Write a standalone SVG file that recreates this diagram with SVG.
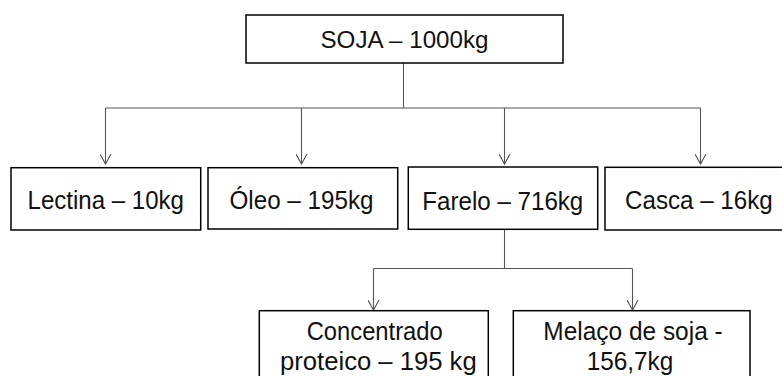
<svg xmlns="http://www.w3.org/2000/svg" width="782" height="376" viewBox="0 0 782 376">
<defs>
<style>
.box{fill:#fff;stroke:#000;stroke-width:1.5}
.t{font-family:"Liberation Sans",Arial,sans-serif;font-size:25px;fill:#111;text-anchor:start}
.c{fill:none;stroke:#555;stroke-width:1.1}
</style>
<marker id="ah" markerWidth="12" markerHeight="12" refX="10" refY="6" orient="auto" markerUnits="userSpaceOnUse">
<path d="M0,0.5 L10,6 L0,11.5" fill="none" stroke="#555" stroke-width="1.1"/>
</marker>
</defs>
<rect width="782" height="376" fill="#fff"/>
<g id="connectors">
<path class="c" d="M403.5,63 V108"/>
<path class="c" d="M105.5,108 H700.5"/>
<path class="c" d="M105.5,108 V164" marker-end="url(#ah)"/>
<path class="c" d="M301.5,108 V164" marker-end="url(#ah)"/>
<path class="c" d="M504.5,108 V164" marker-end="url(#ah)"/>
<path class="c" d="M700.5,108 V164" marker-end="url(#ah)"/>
<path class="c" d="M504.5,230 V268.5"/>
<path class="c" d="M373.5,268.5 H632.5"/>
<path class="c" d="M373.5,268.5 V310" marker-end="url(#ah)"/>
<path class="c" d="M632.5,268.5 V310" marker-end="url(#ah)"/>
</g>
<g id="soja">
<rect class="box" x="246" y="15" width="317" height="48"/>
<text class="t" x="320.5" y="48" textLength="168" lengthAdjust="spacingAndGlyphs" style="font-size:23.5px">SOJA – 1000kg</text>
</g>
<g id="lectina">
<rect class="box" x="11" y="167.7" width="189.7" height="62.3"/>
<text class="t" x="27.5" y="209.3" textLength="156.5" lengthAdjust="spacingAndGlyphs">Lectina – 10kg</text>
</g>
<g id="oleo">
<rect class="box" x="208" y="167.7" width="189.7" height="61.3"/>
<text class="t" x="229.5" y="209.3" textLength="144" lengthAdjust="spacingAndGlyphs">Óleo – 195kg</text>
</g>
<g id="farelo">
<rect class="box" x="408.3" y="167" width="189.4" height="62.3"/>
<text class="t" x="422.3" y="209.5" textLength="161" lengthAdjust="spacingAndGlyphs">Farelo – 716kg</text>
</g>
<g id="casca">
<rect class="box" x="605" y="167.3" width="190" height="62.7"/>
<text class="t" x="625" y="208.8" textLength="147.7" lengthAdjust="spacingAndGlyphs">Casca – 16kg</text>
</g>
<g id="concentrado">
<rect class="box" x="259.3" y="310.7" width="229" height="90"/>
<text class="t" x="306.7" y="340" textLength="136" lengthAdjust="spacingAndGlyphs">Concentrado</text>
<text class="t" x="280" y="370" textLength="196.7" lengthAdjust="spacingAndGlyphs">proteico – 195 kg</text>
</g>
<g id="melaco">
<rect class="box" x="513.3" y="310.7" width="236.7" height="90"/>
<text class="t" x="543.3" y="340" textLength="179.4" lengthAdjust="spacingAndGlyphs">Melaço de soja -</text>
<text class="t" x="586.7" y="370" textLength="86.6" lengthAdjust="spacingAndGlyphs">156,7kg</text>
</g>
</svg>
